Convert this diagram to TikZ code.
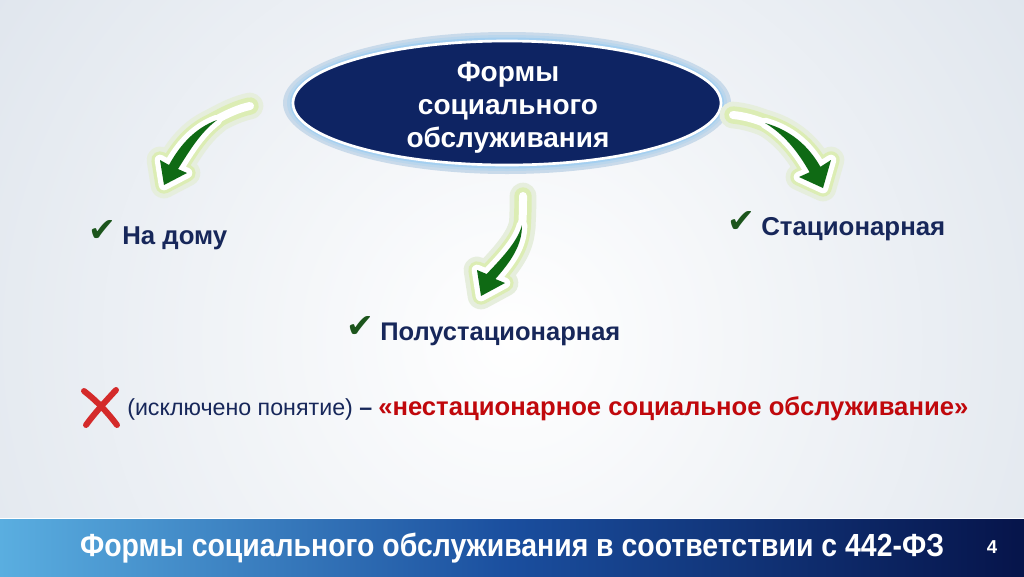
\documentclass[tikz,border=0pt]{standalone}
\usepackage{fontspec}
\usepackage{graphicx}
\setmainfont{Liberation Sans}
\newfontfamily\symfont{DejaVu Sans}
\usetikzlibrary{shapes.geometric}
\definecolor{bgc}{HTML}{D6DEE8}
\definecolor{navy}{HTML}{0E2463}
\definecolor{glowblue}{HTML}{A4CFF0}
\definecolor{txtblue}{HTML}{17275A}
\definecolor{redtxt}{HTML}{C0080C}
\definecolor{xred}{HTML}{D42A2A}
\definecolor{arrgreen}{HTML}{0F6A14}
\definecolor{glowgreen}{HTML}{DCEDB4}
\definecolor{glowgreenb}{HTML}{E6EEDD}
\definecolor{checkc}{HTML}{1C551C}
\definecolor{barL}{HTML}{5AAEE0}
\definecolor{barM}{HTML}{1A4E9E}
\definecolor{barR}{HTML}{06144A}
\tikzset{
  lab/.style={text=txtblue, font=\bfseries, inner sep=0pt},
  chk/.style={text=checkc, font=\symfont\fontsize{25}{25}\selectfont, inner sep=0pt},
}
\newcommand\grarrow[2]{%
  \path[draw=glowgreenb, fill=glowgreenb, line width=20pt, line join=round, line cap=round] #1;
  \draw[glowgreenb, line width=20pt, line cap=round] #2;
  \path[draw=glowgreen, fill=glowgreen, line width=13pt, line join=round, line cap=round] #1;
  \draw[glowgreen, line width=13pt, line cap=round] #2;
  \path[draw=white, fill=white, line width=8pt, line join=round] #1;
  \draw[white, line width=6pt, line cap=round] #2;
  \fill[arrgreen] #1;
}
\begin{document}
\begin{tikzpicture}[x=0.75pt,y=-0.75pt]
\useasboundingbox (0,0) rectangle (1024,576);
% background
\fill[bgc] (0,0) rectangle (1024,519);
\begin{scope}
\clip (0,0) rectangle (1024,519);
\shade[inner color=white, outer color=bgc] (512,340) circle (820);
\end{scope}
% bottom bar
\shade[left color=barL, right color=barR, middle color=barM] (0,519) rectangle (1024,576);
\draw[white, line width=0.8pt] (0,518.5) -- (1024,518.5);
\node (bar) [text=white, font=\fontsize{24}{28}\selectfont\bfseries, inner sep=0pt, anchor=base] at (512,556)
  {\resizebox{648pt}{\height}{Формы социального обслуживания в соответствии с 442-ФЗ}};
\node (num) [text=white, font=\fontsize{14}{16}\selectfont\bfseries, inner sep=0pt, anchor=base] at (992,553) {4};
% central ellipse with glow
\fill[glowblue!25!bgc] (507,103) ellipse (224 and 71);
\fill[glowblue!55!bgc] (507,103) ellipse (220 and 68);
\fill[glowblue] (507,103) ellipse (217 and 65.5);
\node (forms) [ellipse, draw=white, line width=2pt, fill=navy, minimum width=321pt, minimum height=93pt,
  inner sep=0pt] at (507,103) {};
\node (formstxt) [text=white, align=center, inner sep=0pt, font=\fontsize{21}{24.75}\selectfont\bfseries]
  at (508,108) {Формы\\социального\\обслуживания};
% arrows
\grarrow{(217,120) .. controls (195,128) and (180,145) .. (169,165) -- (160,160) -- (164,185) -- (187,173) -- (178,169) .. controls (190,150) and (200,133) .. cycle}{(214,121) .. controls (228,113) and (240,108) .. (250,106)}
\grarrow{(522,225) .. controls (518,240) and (505,255) .. (486.6,274) -- (477,270) -- (481,296) -- (505,283) -- (495.4,279) .. controls (512,260) and (522,245) .. cycle}{(522,228) .. controls (523,215) and (523,205) .. (523,196)}
\grarrow{(765,123) .. controls (790,130) and (808,145) .. (820.4,166.8) -- (831,160) -- (823,188) -- (799,177) -- (809.6,172.2) .. controls (798,152) and (785,135) .. cycle}{(767,124) .. controls (755,119) and (744,116) .. (733,115)}
% labels
\node (chk1) [chk] at (102,231) {✔};
\node (lab1) [lab, anchor=base west] at (122,244) {\resizebox{78.75pt}{!}{На дому}};
\node (chk2) [chk] at (741,222) {✔};
\node (lab2) [lab, anchor=base west] at (761,235) {\resizebox{138pt}{!}{Стационарная}};
\node (chk3) [chk] at (360,327) {✔};
\node (lab3) [lab, anchor=base west] at (380,340) {\resizebox{180pt}{!}{Полустационарная}};
% excluded notion
\draw[xred, line width=4.5pt, line cap=round] (84,391) .. controls (98,402) and (108,413) .. (117,425);
\draw[xred, line width=4.5pt, line cap=round] (116,390) .. controls (104,403) and (94,414) .. (86,425);
\node (excl) [text=txtblue, inner sep=0pt, anchor=base west] at (127,415) {\resizebox{183.75pt}{!}{(исключено понятие) \textbf{–}}};
\node (nonst) [text=redtxt, font=\bfseries, inner sep=0pt, anchor=base west] at (378,415) {\resizebox{442.5pt}{!}{«нестационарное социальное обслуживание»}};
\end{tikzpicture}
\end{document}
